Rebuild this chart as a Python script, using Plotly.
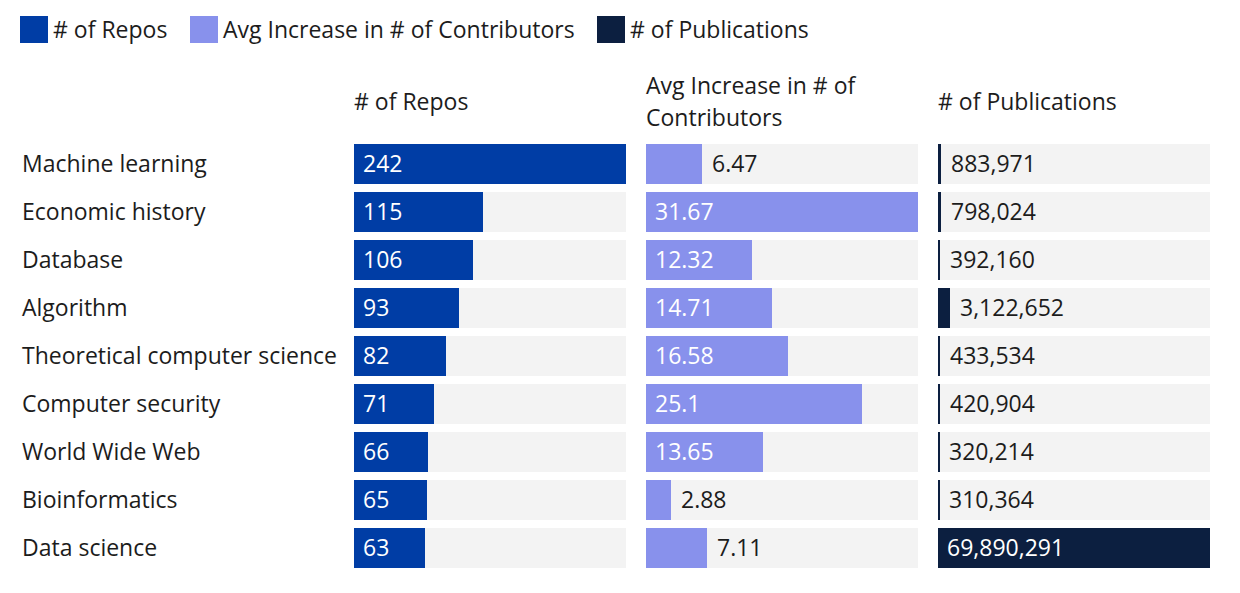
import plotly.graph_objects as go

categories = ["Machine learning", "Economic history", "Database", "Algorithm",
              "Theoretical computer science", "Computer security", "World Wide Web",
              "Bioinformatics", "Data science"]
repos = [242, 115, 106, 93, 82, 71, 66, 65, 63]
contributors = [6.47, 31.67, 12.32, 14.71, 16.58, 25.1, 13.65, 2.88, 7.11]
publications = [883971, 798024, 392160, 3122652, 433534, 420904, 320214, 310364, 69890291]

series_names = ["# of Repos", "Avg Increase in # of Contributors", "# of Publications"]
header_lines = [["# of Repos"], ["Avg Increase in # of", "Contributors"], ["# of Publications"]]
colors = ["#003DA5", "#8891EC", "#0C1F40"]
labels = [[str(v) for v in repos], [str(v) for v in contributors], [f"{v:,}" for v in publications]]
values = [repos, contributors, publications]

W, H = 1240, 593
FONT = "Open Sans"
FS = 23
TXT = "#1c1c1c"
BG = "#F3F3F3"

col_px = [(354, 626), (646, 918), (938, 1210)]
ydom = [21 / H, 453 / H]

fig = go.Figure()
annotations = []
for i, (vals, col) in enumerate(zip(values, colors)):
    ax = "" if i == 0 else str(i + 1)
    vmax = max(vals)
    x0, x1 = col_px[i]
    fig.add_trace(go.Bar(y=categories, x=[vmax] * len(vals), orientation="h",
                         marker=dict(color=BG, line=dict(width=0)), width=40 / 48,
                         xaxis="x" + ax, yaxis="y" + ax, showlegend=False, hoverinfo="skip"))
    fig.add_trace(go.Bar(y=categories, x=vals, orientation="h", name=series_names[i],
                         marker=dict(color=col, line=dict(width=0)), width=40 / 48,
                         xaxis="x" + ax, yaxis="y" + ax, showlegend=False))
    fig.layout["xaxis" + ax] = dict(domain=[x0 / W, x1 / W], range=[0, vmax], visible=False,
                                    fixedrange=True)
    fig.layout["yaxis" + ax] = dict(domain=ydom, categoryorder="array", categoryarray=categories,
                                    range=[len(categories) - 0.5, -0.5], visible=False,
                                    anchor="x" + ax, fixedrange=True)
    # value labels: inside when the label fits in the bar
    for c, v, lab in zip(categories, vals, labels[i]):
        bar_px = v / vmax * (x1 - x0)
        inside = len(lab) * 11.5 + 22 <= bar_px
        annotations.append(dict(x=0 if inside else v, y=c, xref="x" + ax, yref="y" + ax,
                                text=lab, showarrow=False, xanchor="left", yanchor="middle",
                                xshift=7 if inside else 8, yshift=1,
                                font=dict(family=FONT, size=FS, color="white" if inside else TXT)))
    # headers
    nl = len(header_lines[i])
    for k, line in enumerate(header_lines[i]):
        ypx = 101 + (k - (nl - 1) / 2) * 32
        annotations.append(dict(x=(x0 - 2) / W, y=1 - ypx / H, xref="paper", yref="paper",
                                text=line, showarrow=False, xanchor="left", yanchor="middle",
                                font=dict(family=FONT, size=FS, color=TXT)))

# category labels
for c in categories:
    annotations.append(dict(x=20 / W, y=c, xref="paper", yref="y", text=c, showarrow=False,
                            xanchor="left", yanchor="middle", yshift=1,
                            font=dict(family=FONT, size=FS, color=TXT)))

# legend (custom swatches)
shapes = []
leg_x = [20, 190, 597]
for name, col, lx in zip(series_names, colors, leg_x):
    shapes.append(dict(type="rect", xref="paper", yref="paper", x0=lx / W, x1=(lx + 28) / W,
                       y0=1 - 43 / H, y1=1 - 16 / H, fillcolor=col, line=dict(width=0)))
    annotations.append(dict(x=(lx + 31) / W, y=1 - 28.5 / H, xref="paper", yref="paper",
                            text=name, showarrow=False, xanchor="left", yanchor="middle",
                            font=dict(family=FONT, size=FS, color=TXT)))

fig.update_layout(width=W, height=H, margin=dict(l=0, r=0, t=0, b=0),
                  barmode="overlay", bargap=0, paper_bgcolor="white", plot_bgcolor="white",
                  annotations=annotations, shapes=shapes, showlegend=False,
                  font=dict(family=FONT, size=FS, color=TXT))
fig.write_html("out.html", config={"displayModeBar": False},
               post_script="document.body.style.margin='0';document.body.style.overflow='hidden';")
